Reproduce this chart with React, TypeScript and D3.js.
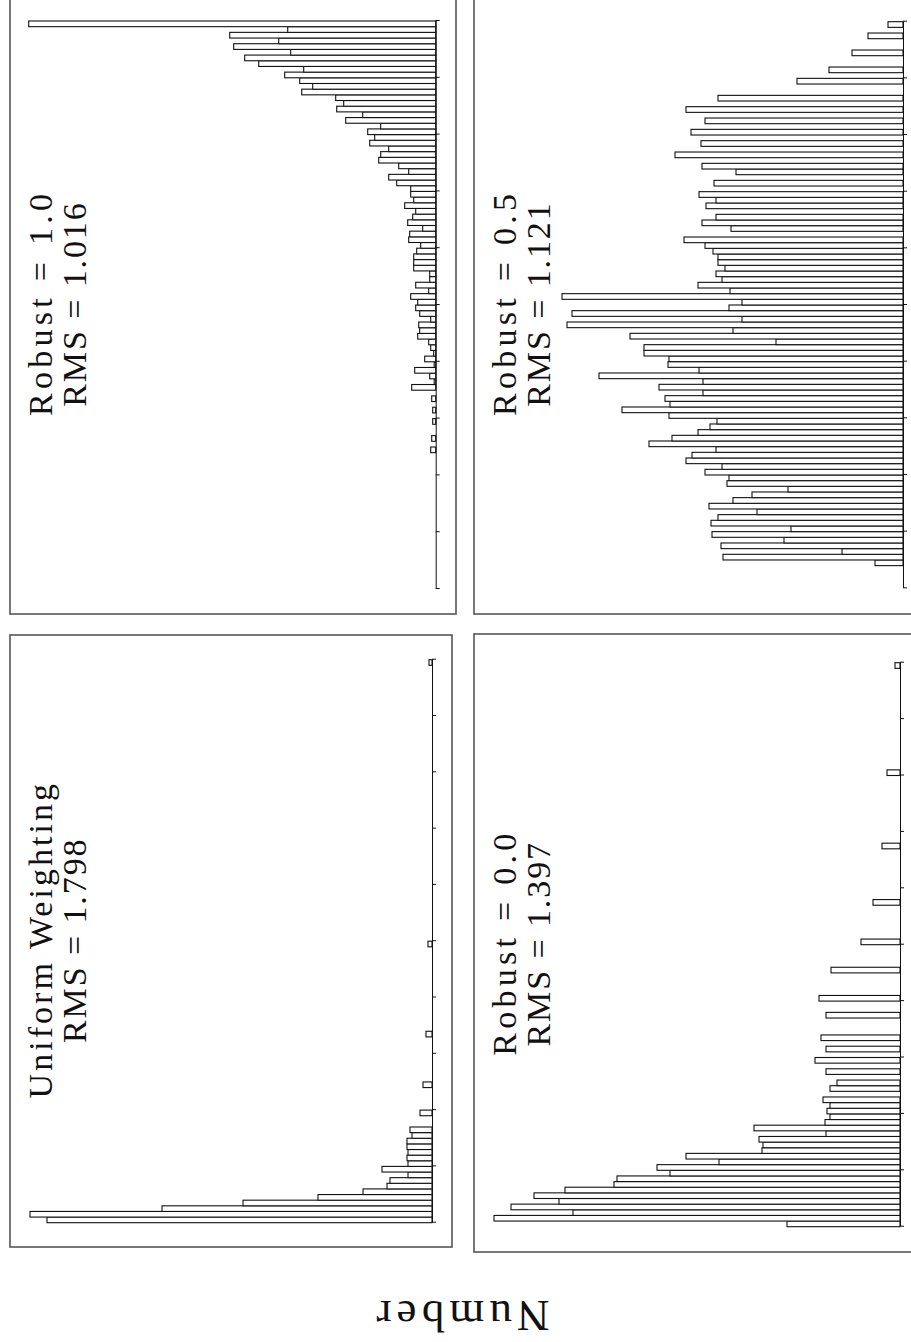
import React, { useEffect, useRef } from 'react';
import * as d3 from 'd3';

// page is drawn in landscape and turned a quarter turn, like the printed figure
const WIDTH = 911;
const HEIGHT = 1342;
const NBINS = 100;
const YMAX = 420;

// counts per weight bin (bin 0 first)
const uniformCounts = [
  385, 402, 270, 189, 114, 69, 45, 42, 24, 50,
  24, 25, 24, 25, 25, 20, 22, 0, 0, 12,
  0, 0, 0, 0, 9, 0, 0, 0, 0, 0,
  0, 0, 0, 6, 0, 0, 0, 0, 0, 0,
  0, 0, 0, 0, 0, 0, 0, 0, 0, 4,
  0, 0, 0, 0, 0, 0, 0, 0, 0, 0,
  0, 0, 0, 0, 0, 0, 0, 0, 0, 0,
  0, 0, 0, 0, 0, 0, 0, 0, 0, 0,
  0, 0, 0, 0, 0, 0, 0, 0, 0, 0,
  0, 0, 0, 0, 0, 0, 0, 0, 0, 3
];

const robust10Counts = [
  0, 0, 0, 0, 0, 0, 0, 0, 0, 0,
  0, 0, 0, 0, 0, 0, 0, 0, 0, 0,
  0, 0, 0, 0, 5, 0, 4, 0, 0, 3,
  0, 3, 0, 4, 0, 24, 1.5, 6, 21, 1.5,
  11, 2, 5, 7, 18, 16, 17, 5, 16, 20,
  18, 25, 7, 20, 6, 6, 22, 22, 22, 19,
  15, 27, 26, 13, 28, 23, 20, 31, 22, 25,
  25, 39, 47, 27, 37, 57, 55, 47, 66, 61,
  68, 55, 90, 73, 99, 92, 100, 134, 123, 136,
  151, 132, 177, 191, 145, 202, 157, 206, 148, 407
];

const robust00Counts = [
  113, 406, 327, 389, 341, 366, 335, 286, 283, 230,
  243, 181, 214, 138, 137, 141, 74, 146, 75, 70,
  73, 70, 77, 0, 70, 63, 0, 74, 0, 85,
  0, 74, 0, 79, 0, 0, 0, 74, 0, 0,
  81, 0, 0, 0, 0, 69, 0, 0, 0, 0,
  39, 0, 0, 0, 0, 0, 0, 27, 0, 0,
  0, 0, 0, 0, 0, 0, 0, 18, 0, 0,
  0, 0, 0, 0, 0, 0, 0, 0, 0, 0,
  13, 0, 0, 0, 0, 0, 0, 0, 0, 0,
  0, 0, 0, 0, 0, 0, 0, 0, 0, 5
];

const robust05Counts = [
  0, 0, 0, 0, 28, 180, 61, 182, 119, 191,
  112, 192, 185, 146, 194, 170, 151, 115, 176, 174,
  198, 181, 217, 211, 187, 254, 231, 205, 193, 186,
  234, 281, 233, 238, 200, 244, 200, 304, 204, 235,
  234, 259, 259, 127, 273, 170, 336, 161, 331, 174,
  161, 341, 173, 205, 181, 187, 178, 185, 185, 190,
  198, 219, 0, 172, 201, 187, 0, 197, 187, 204,
  0, 189, 0, 167, 201, 0, 228, 0, 202, 0,
  212, 0, 198, 0, 217, 0, 185, 0, 0, 106,
  0, 74, 0, 0, 51, 0, 0, 35, 0, 15
];

const panelTitles = ['Uniform Weighting', 'Robust = 1.0', 'Robust = 0.0', 'Robust = 0.5'];
const panelRms = ['1.798', '1.016', '1.397', '1.121'];
const panelCounts = [uniformCounts, robust10Counts, robust00Counts, robust05Counts];

// frame [x0, y0, x1, y1], axis ends and baseline, in landscape coordinates
const layouts = [
  { frame: [95, 10, 707, 452], axis: [119.3, 682.3], base: 432 },
  { frame: [728, 10, 1346, 456], axis: [753, 1321], base: 435.7 },
  { frame: [90, 474, 708, 920], axis: [115.3, 679.3], base: 900 },
  { frame: [728, 474, 1346, 920], axis: [753.7, 1320.3], base: 903 }
];

const FONT = '"Liberation Serif", "DejaVu Serif", serif';
const CHAR_W = 18.5; // the plotting font spaces its letters evenly

export default function App() {
  const ref = useRef<SVGSVGElement>(null);

  useEffect(() => {
    const svg = d3.select(ref.current);
    svg.selectAll('*').remove();

    svg.append('rect').attr('width', WIDTH).attr('height', HEIGHT).attr('fill', '#fff');

    const page = svg.append('g').attr('transform', `translate(0,${HEIGHT}) rotate(-90)`);

    const addLabel = (g, str, x, y, size, w) =>
      g.append('text')
        .attr('x', x)
        .attr('y', y)
        .attr('text-anchor', 'middle')
        .attr('textLength', w)
        .attr('lengthAdjust', 'spacing')
        .style('font-family', FONT)
        .style('font-size', size + 'px')
        .attr('fill', '#111')
        .text(str);

    layouts.forEach((p, k) => {
      const counts = panelCounts[k];
      const x = d3.scaleLinear().domain([0, NBINS]).range(p.axis);
      const y = d3.scaleLinear().domain([0, YMAX]).range([p.base, p.base - YMAX]);
      const g = page.append('g');

      g.append('rect')
        .attr('x', p.frame[0])
        .attr('y', p.frame[1])
        .attr('width', p.frame[2] - p.frame[0])
        .attr('height', p.frame[3] - p.frame[1])
        .attr('fill', 'none')
        .attr('stroke', '#555')
        .attr('stroke-width', 1.6);

      const bins = counts.map((v, i) => ({ i, v })).filter(d => d.v > 0);
      g.selectAll('rect.bar')
        .data(bins)
        .enter()
        .append('rect')
        .attr('class', 'bar')
        .attr('x', d => x(d.i))
        .attr('width', d => x(d.i + 1) - x(d.i))
        .attr('y', d => y(d.v))
        .attr('height', d => p.base - y(d.v))
        .attr('fill', '#fff')
        .attr('stroke', '#111')
        .attr('stroke-width', 1.1);

      const axis = d3
        .axisBottom(x)
        .tickValues(d3.range(0, NBINS + 1, 10))
        .tickSizeInner(4)
        .tickSizeOuter(0)
        .tickFormat(() => '');
      g.append('g')
        .attr('transform', `translate(0,${p.base})`)
        .style('color', '#111')
        .call(axis);

      const cx = (p.axis[0] + p.axis[1]) / 2;
      const line2 = 'RMS = ' + panelRms[k];
      addLabel(g, panelTitles[k], cx, p.frame[1] + 42, 34, panelTitles[k].length * CHAR_W);
      addLabel(g, line2, cx, p.frame[1] + 75.5, 34, line2.length * CHAR_W);
    });

    const yTitle = addLabel(page, 'Number', 0, 0, 45, 173);
    yTitle.attr('transform', 'translate(41,463) rotate(-90)');
  }, []);

  return (
    <svg
      ref={ref}
      width={WIDTH}
      height={HEIGHT}
      style={{ position: 'absolute', left: 0, top: 0, display: 'block' }}
    />
  );
}
